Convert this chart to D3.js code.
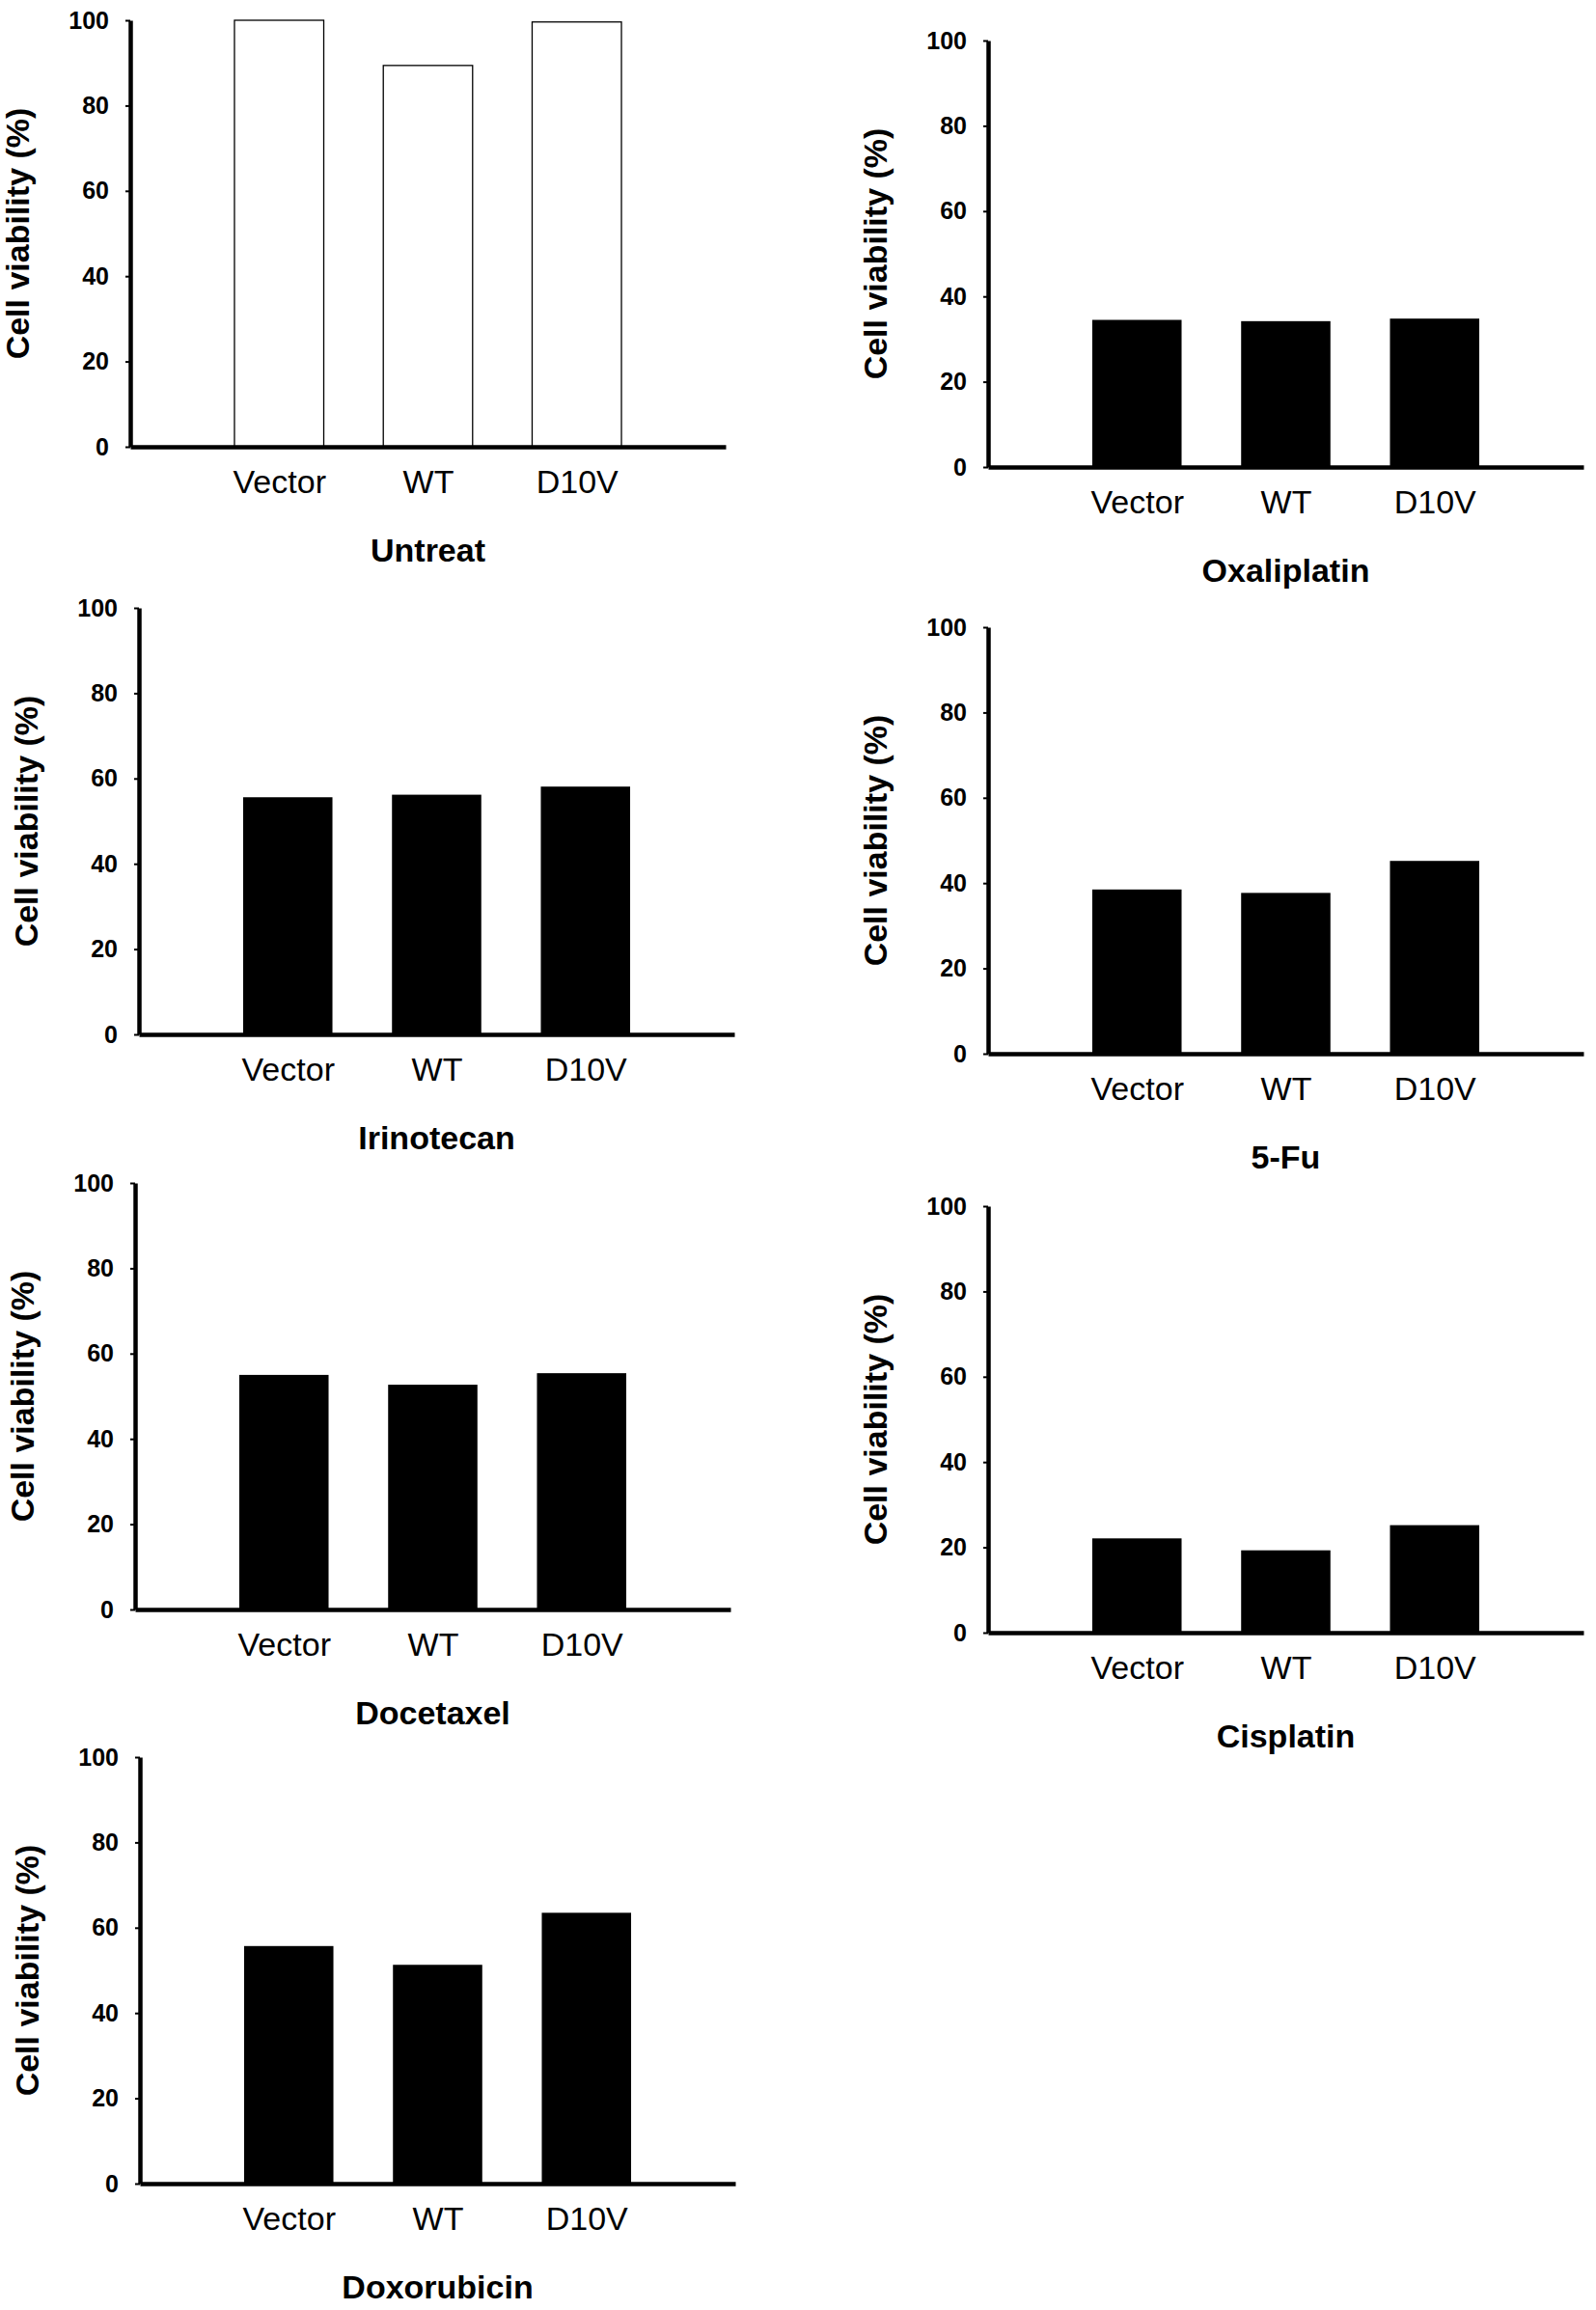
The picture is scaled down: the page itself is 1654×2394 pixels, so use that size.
<!DOCTYPE html>
<html>
<head>
<meta charset="utf-8">
<script src="https://cdn.jsdelivr.net/npm/d3@7"></script>
<style>
  body { margin: 0; background: #fff; }
  svg text { font-family: "Liberation Sans", Arial, sans-serif; fill: #000; }
</style>
</head>
<body>
<div id="chart"></div>
<script>
// values (cell viability, %)
var categories = ["Vector", "WT", "D10V"];
var treatments = ["Untreat", "Oxaliplatin", "Irinotecan", "5-Fu", "Docetaxel", "Cisplatin", "Doxorubicin"];
var untreat = [100, 89.4, 99.6];
var oxaliplatin = [34.5, 34.2, 34.8];
var irinotecan = [55.6, 56.2, 58.1];
var fiveFu = [38.5, 37.7, 45.2];
var docetaxel = [55.0, 52.7, 55.4];
var cisplatin = [22.1, 19.3, 25.2];
var doxorubicin = [55.7, 51.3, 63.5];
var yTicks = [0, 20, 40, 60, 80, 100];

var seriesList = [untreat, oxaliplatin, irinotecan, fiveFu, docetaxel, cisplatin, doxorubicin];

// where each small panel sits (left edge of y axis, top of y axis)
var panelPos = [
  [135, 21], [1024, 42],
  [144, 630], [1024, 650],
  [140, 1226], [1024, 1250],
  [145, 1821]
];

var svgWidth = 1654, svgHeight = 2394;
var width = 617, height = 442;

var svg = d3.select("#chart").append("svg")
  .attr("width", svgWidth)
  .attr("height", svgHeight);

var xScale = d3.scalePoint().domain(categories).range([0, width]).padding(1);
var yScale = d3.scaleLinear().domain([0, 100]).range([height, 0]);
var barWidth = xScale.step() * 0.6;

treatments.forEach(function (name, i) {
  var values = seriesList[i];
  var data = categories.map(function (c, j) { return { cat: c, value: values[j] }; });
  var open = (i === 0);

  var g = svg.append("g")
    .attr("transform", `translate(${panelPos[i][0]}, ${panelPos[i][1]})`);

  // bars
  g.selectAll("rect")
    .data(data)
    .enter()
    .append("rect")
    .attr("x", d => xScale(d.cat) - barWidth / 2)
    .attr("y", d => yScale(d.value))
    .attr("width", barWidth)
    .attr("height", d => height - yScale(d.value))
    .attr("fill", open ? "#fff" : "#000")
    .attr("stroke", "#000")
    .attr("stroke-width", open ? 1.3 : 0);

  // y axis
  var yAxis = g.append("g")
    .call(d3.axisLeft(yScale).tickValues(yTicks).tickSize(5).tickSizeOuter(0).tickPadding(17));
  yAxis.select(".domain").attr("stroke-width", 4.5);
  yAxis.selectAll(".tick line").attr("stroke-width", 2);
  yAxis.selectAll(".tick text")
    .attr("font-size", 25)
    .attr("font-weight", "bold")
    .style("font-family", "'Liberation Sans', Arial, sans-serif");

  // x axis
  var xAxis = g.append("g")
    .attr("transform", `translate(0, ${height})`)
    .call(d3.axisBottom(xScale).tickSize(0).tickSizeOuter(0).tickPadding(24));
  xAxis.select(".domain").attr("stroke-width", 4.5);
  xAxis.selectAll(".tick text")
    .attr("font-size", 34)
    .style("font-family", "'Liberation Sans', Arial, sans-serif");

  // y axis label
  g.append("text")
    .attr("transform", "rotate(-90)")
    .attr("x", -height / 2)
    .attr("y", -105)
    .attr("text-anchor", "middle")
    .attr("font-size", 34)
    .attr("font-weight", "bold")
    .text("Cell viability (%)");

  // treatment name under the axis
  g.append("text")
    .attr("x", width / 2)
    .attr("y", height + 119)
    .attr("text-anchor", "middle")
    .attr("font-size", 34)
    .attr("font-weight", "bold")
    .text(name);
});
</script>
</body>
</html>
